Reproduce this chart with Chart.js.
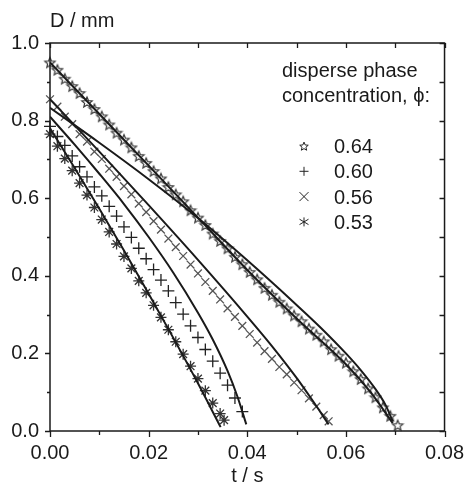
<!DOCTYPE html>
<html>
<head>
<meta charset="utf-8">
<script src="https://cdn.jsdelivr.net/npm/chart.js"></script>
<style>
  body { margin: 0; background: #fff; }
</style>
</head>
<body>
<canvas id="chart" width="468" height="490"></canvas>
<script>
// legend labels (disperse phase concentration)
const concentrations = ['0.64', '0.60', '0.56', '0.53'];

// measured points, t in s, D in mm
const t64 = [0, 0.0015, 0.003, 0.0045, 0.006, 0.0075, 0.009, 0.0105, 0.012, 0.0135, 0.015, 0.0165, 0.018, 0.0195, 0.021, 0.0225,
    0.024, 0.0255, 0.027, 0.0285, 0.03, 0.0315, 0.033, 0.0345, 0.036, 0.0375, 0.039, 0.0405, 0.042, 0.0435, 0.045, 0.0465,
    0.048, 0.0495, 0.051, 0.0525, 0.054, 0.0555, 0.057, 0.0585, 0.06, 0.0615, 0.063, 0.0645, 0.066, 0.0675, 0.069, 0.0705];
const d64 = [0.95, 0.931, 0.908, 0.889, 0.871, 0.848, 0.83, 0.811, 0.79, 0.769, 0.751, 0.731, 0.709, 0.691, 0.67, 0.651,
    0.629, 0.61, 0.592, 0.569, 0.55, 0.531, 0.509, 0.49, 0.471, 0.449, 0.43, 0.41, 0.391, 0.369, 0.351, 0.333,
    0.316, 0.298, 0.283, 0.264, 0.248, 0.231, 0.211, 0.194, 0.176, 0.154, 0.134, 0.11, 0.087, 0.061, 0.039, 0.015];

const t60 = [0, 0.0015, 0.003, 0.0045, 0.006, 0.0075, 0.009, 0.0105, 0.012, 0.0135, 0.015, 0.0165, 0.018, 0.0195, 0.021, 0.0225,
    0.024, 0.0255, 0.027, 0.0285, 0.03, 0.0315, 0.033, 0.0345, 0.036, 0.0375, 0.039, 0.0405, 0.042, 0.0435, 0.045, 0.0465,
    0.048, 0.0495, 0.051, 0.0525, 0.054, 0.0555, 0.0565];
const d60 = [0.855, 0.836, 0.81, 0.791, 0.765, 0.746, 0.72, 0.701, 0.676, 0.655, 0.631, 0.61, 0.586, 0.564, 0.541, 0.519,
    0.496, 0.474, 0.451, 0.429, 0.406, 0.384, 0.361, 0.339, 0.316, 0.294, 0.271, 0.25, 0.228, 0.206, 0.186, 0.165,
    0.146, 0.125, 0.105, 0.084, 0.063, 0.041, 0.025];

const t56 = [0, 0.0015, 0.003, 0.0045, 0.006, 0.0075, 0.009, 0.0105, 0.012, 0.0135, 0.015, 0.0165, 0.018, 0.0195, 0.021, 0.0225,
    0.024, 0.0255, 0.027, 0.0285, 0.03, 0.0315, 0.033, 0.0345, 0.036, 0.0375, 0.039];
const d56 = [0.785, 0.759, 0.736, 0.709, 0.681, 0.655, 0.629, 0.606, 0.579, 0.554, 0.526, 0.499, 0.471, 0.444, 0.416, 0.389,
    0.361, 0.331, 0.301, 0.271, 0.241, 0.21, 0.18, 0.149, 0.118, 0.085, 0.05];

const t53 = [0, 0.0015, 0.003, 0.0045, 0.006, 0.0075, 0.009, 0.0105, 0.012, 0.0135, 0.015, 0.0165, 0.018, 0.0195, 0.021, 0.0225,
    0.024, 0.0255, 0.027, 0.0285, 0.03, 0.0315, 0.033, 0.0345, 0.0353];
const d53 = [0.765, 0.734, 0.702, 0.671, 0.639, 0.608, 0.576, 0.545, 0.513, 0.482, 0.45, 0.419, 0.387, 0.356, 0.324, 0.293,
    0.261, 0.23, 0.198, 0.167, 0.135, 0.104, 0.072, 0.045, 0.028];

// model curves (solid lines)
const fitT64a = [0, 0.01, 0.02, 0.03, 0.04, 0.05, 0.06, 0.065, 0.0695];
const fitD64a = [0.95, 0.817, 0.684, 0.55, 0.415, 0.29, 0.172, 0.1, 0.02];
const fitT64b = [0, 0.01, 0.02, 0.03, 0.04, 0.05, 0.055, 0.06, 0.063, 0.066, 0.068, 0.0695];
const fitD64b = [0.833, 0.743, 0.649, 0.549, 0.44, 0.325, 0.265, 0.2, 0.157, 0.108, 0.068, 0.025];
const fitT60 = [0, 0.01, 0.02, 0.03, 0.04, 0.045, 0.05, 0.053, 0.0565];
const fitD60 = [0.855, 0.72, 0.582, 0.441, 0.295, 0.219, 0.137, 0.083, 0.017];
const fitT56 = [0, 0.005, 0.01, 0.015, 0.02, 0.025, 0.03, 0.033, 0.036, 0.038, 0.0398];
const fitD56 = [0.81, 0.738, 0.663, 0.585, 0.5, 0.408, 0.305, 0.236, 0.155, 0.089, 0.017];
const fitT53 = [0, 0.005, 0.01, 0.015, 0.02, 0.025, 0.03, 0.0346];
const fitD53 = [0.78, 0.678, 0.573, 0.465, 0.354, 0.24, 0.123, 0.01];

const toXY = (ts, ds) => ts.map((t, i) => ({ x: t, y: ds[i] }));

const ink = '#1a1a1a';
const font = '"Liberation Sans", Arial, Helvetica, sans-serif';

// open five-pointed star used for the 0.64 series
function makeStar(r, color, lw) {
    const c = document.createElement('canvas');
    const s = Math.ceil(2 * r + 3);
    c.width = s;
    c.height = s;
    const g = c.getContext('2d');
    g.beginPath();
    for (let k = 0; k < 10; k++) {
        const a = -Math.PI / 2 + k * Math.PI / 5;
        const rr = k % 2 ? r * 0.45 : r;
        g.lineTo(s / 2 + rr * Math.cos(a), s / 2 + 0.6 + rr * Math.sin(a));
    }
    g.closePath();
    g.fillStyle = '#fff';
    g.fill();
    g.strokeStyle = color;
    g.lineWidth = lw;
    g.stroke();
    return c;
}
const starImg = makeStar(5.5, '#3a3a3a', 1.2);
const starLegend = makeStar(4.5, '#222', 1);

function curve(ts, ds) {
    return {
        type: 'scatter',
        data: toXY(ts, ds),
        showLine: true,
        borderColor: ink,
        borderWidth: 2,
        pointRadius: 0,
        cubicInterpolationMode: 'monotone',
        order: 1
    };
}

function markers(ts, ds, style, color, radius) {
    return {
        type: 'scatter',
        data: toXY(ts, ds),
        showLine: false,
        pointStyle: style,
        pointRadius: radius,
        borderColor: color,
        backgroundColor: 'rgba(0,0,0,0)',
        borderWidth: 1.3,
        clip: false,
        order: 2
    };
}

// box with ticks: left/bottom outward, right/top inward
const frameTicks = {
    id: 'frameTicks',
    afterDraw(chart) {
        const { ctx, chartArea: a, scales: { x, y } } = chart;
        ctx.save();
        ctx.strokeStyle = ink;
        ctx.lineWidth = 1.5;
        ctx.strokeRect(a.left, a.top, a.right - a.left, a.bottom - a.top);
        ctx.lineWidth = 1.3;
        ctx.beginPath();
        for (let i = 0; i <= 8; i++) {
            const px = Math.round(x.getPixelForValue(i * 0.01)) + 0.5;
            ctx.moveTo(px, a.bottom);
            ctx.lineTo(px, a.bottom + (i % 2 === 0 ? 6 : 4));
            ctx.moveTo(px, a.top);
            ctx.lineTo(px, a.top + 5);
        }
        for (let i = 0; i <= 10; i++) {
            const py = Math.round(y.getPixelForValue(i * 0.1)) + 0.5;
            ctx.moveTo(a.left, py);
            ctx.lineTo(a.left - (i % 2 === 0 ? 5 : 3), py);
            ctx.moveTo(a.right, py);
            ctx.lineTo(a.right - 5, py);
        }
        ctx.stroke();

        // y axis title above the axis
        ctx.fillStyle = ink;
        ctx.font = '20px ' + font;
        ctx.textAlign = 'left';
        ctx.textBaseline = 'alphabetic';
        ctx.fillText('D / mm', a.left, a.top - 16);
        ctx.restore();
    }
};

// legend block inside the plot
const phaseLegend = {
    id: 'phaseLegend',
    afterDraw(chart) {
        const { ctx, chartArea: a } = chart;
        const x0 = a.left + 232;
        ctx.save();
        ctx.fillStyle = ink;
        ctx.font = '20px ' + font;
        ctx.textBaseline = 'alphabetic';
        ctx.textAlign = 'left';
        ctx.fillText('disperse phase', x0, a.top + 34);
        ctx.fillText('concentration, ϕ:', x0, a.top + 59);

        const mx = a.left + 254;
        ctx.strokeStyle = '#222';
        ctx.lineWidth = 1;
        concentrations.forEach((label, i) => {
            const cy = a.top + 103 + i * 25.3;
            const r = 4.5;
            ctx.beginPath();
            if (i === 0) {
                ctx.drawImage(starLegend, mx - starLegend.width / 2, cy - starLegend.height / 2);
            } else if (i === 1) {
                ctx.moveTo(mx - r, cy); ctx.lineTo(mx + r, cy);
                ctx.moveTo(mx, cy - r); ctx.lineTo(mx, cy + r);
            } else if (i === 2) {
                ctx.moveTo(mx - r, cy - r); ctx.lineTo(mx + r, cy + r);
                ctx.moveTo(mx - r, cy + r); ctx.lineTo(mx + r, cy - r);
            } else {
                ctx.moveTo(mx, cy - r); ctx.lineTo(mx, cy + r);
                ctx.moveTo(mx - r, cy - r * 0.6); ctx.lineTo(mx + r, cy + r * 0.6);
                ctx.moveTo(mx - r, cy + r * 0.6); ctx.lineTo(mx + r, cy - r * 0.6);
            }
            ctx.stroke();
            ctx.fillText(label, a.left + 284, cy + 7);
        });
        ctx.restore();
    }
};

Chart.defaults.font.family = font;
Chart.defaults.font.size = 20;
Chart.defaults.color = ink;

new Chart(document.getElementById('chart'), {
    type: 'scatter',
    data: {
        datasets: [
            curve(fitT64a, fitD64a),
            curve(fitT64b, fitD64b),
            curve(fitT60, fitD60),
            curve(fitT56, fitD56),
            curve(fitT53, fitD53),
            markers(t64, d64, starImg, '#3a3a3a', 5.5),
            markers(t60, d60, 'crossRot', '#555', 5.5),
            markers(t56, d56, 'cross', '#222', 6),
            markers(t53, d53, 'star', '#333', 5.5)
        ]
    },
    options: {
        responsive: false,
        animation: false,
        layout: { padding: { top: 43, right: 21, left: 0, bottom: 0 } },
        plugins: {
            legend: { display: false },
            tooltip: { enabled: false }
        },
        scales: {
            x: {
                type: 'linear',
                min: 0,
                max: 0.08,
                afterFit: s => { s.height = 59; },
                grid: { display: false, drawTicks: true, tickLength: 6 },
                border: { display: false },
                ticks: { stepSize: 0.02, padding: 4, maxRotation: 0, callback: v => v.toFixed(2) },
                title: { display: true, text: 't / s', padding: { top: 0, bottom: 2 } }
            },
            y: {
                type: 'linear',
                min: 0,
                max: 1,
                afterFit: s => { s.width = 50; },
                grid: { display: false, drawTicks: true, tickLength: 6 },
                border: { display: false },
                ticks: { stepSize: 0.2, padding: 5, callback: v => v.toFixed(1) }
            }
        }
    },
    plugins: [frameTicks, phaseLegend]
});
</script>
</body>
</html>
